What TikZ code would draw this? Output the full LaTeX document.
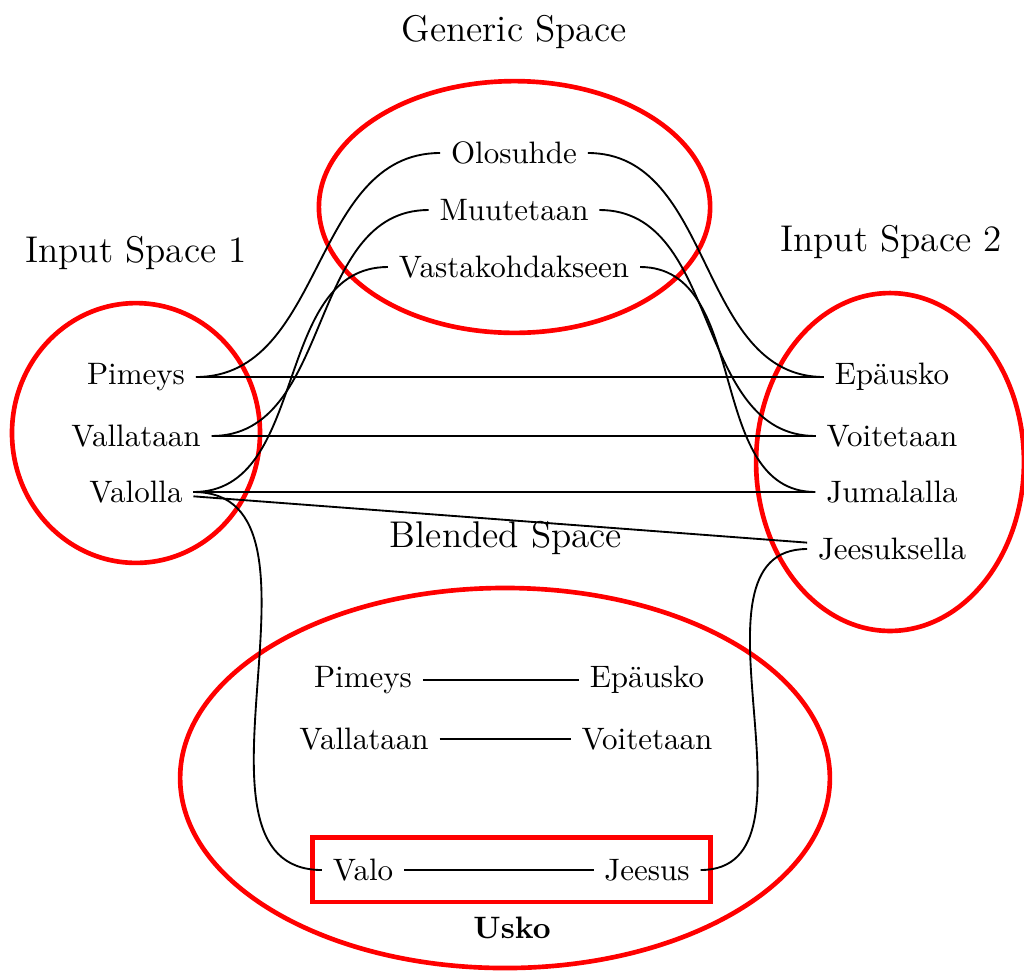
\documentclass[tikz,border=0pt]{standalone}
\usepackage{fontspec}
\begin{document}
\begin{tikzpicture}[
    x=0.32258pt, y=-0.32258pt,
    space/.style={draw=red, line width=1.5pt},
    link/.style={line width=0.6pt},
    title/.style={font=\large},
    term/.style={},
  ]
\useasboundingbox (0,0) rectangle (1024,970);

% the four mental spaces
\draw[space] (514.5,207) ellipse [x radius=63.1pt, y radius=40.6pt];
\draw[space] (136,433) ellipse [x radius=40.0pt, y radius=41.9pt];
\draw[space] (890,462) ellipse [x radius=43.2pt, y radius=54.5pt];
\draw[space] (505,778) ellipse [x radius=104.8pt, y radius=61.3pt];

% space titles
\node[title] (tg) at (514,32) {Generic Space};
\node[title] (t1) at (136,253) {Input Space 1};
\node[title] (t2) at (891,242) {Input Space 2};
\node[title] (tb) at (506,538) {Blended Space};

% generic space
\node[term] (g1) at (514,153) {Olosuhde};
\node[term] (g2) at (514,210) {Muutetaan};
\node[term] (g3) at (514,267) {Vastakohdakseen};

% input space 1
\node[term] (a1) at (136,377) {Pimeys};
\node[term] (a2) at (136,436) {Vallataan};
\node[term] (a3) at (136,492) {Valolla};

% input space 2
\node[term] (b1) at (892,377) {Epäusko};
\node[term] (b2) at (892,436) {Voitetaan};
\node[term] (b3) at (892,492) {Jumalalla};
\node[term] (b4) at (892,549) {Jeesuksella};

% blended space
\node[term] (c1) at (363,680) {Pimeys};
\node[term] (d1) at (647,680) {Epäusko};
\node[term] (c2) at (364,739) {Vallataan};
\node[term] (d2) at (647,739) {Voitetaan};
\node[term] (c3) at (363,870) {Valo};
\node[term] (d3) at (647,870) {Jeesus};
\node[space, minimum width=128.4pt, minimum height=20.8pt, inner sep=0pt] (usko) at (511.5,869.75) {};
\node[font=\bfseries] (uskolabel) at (512,927.5) {Usko};

% cross-space mappings
\draw[link] (a1) -- (b1);
\draw[link] (a2) -- (b2);
\draw[link] (a3) -- (b3);
\draw[link] (a3) -- (b4);

\draw[link] (a1.east) to[out=0,in=180] (g1.west);
\draw[link] (a2.east) to[out=0,in=180] (g2.west);
\draw[link] (a3.east) to[out=0,in=180] (g3.west);
\draw[link] (g1.east) to[out=0,in=180] (b1.west);
\draw[link] (g2.east) to[out=0,in=180] (b2.west);
\draw[link] (g3.east) to[out=0,in=180] (b3.west);

% projections into the blend
\draw[link] (a3.east) to[out=0,in=180] (c3.west);
\draw[link] (b4.west) to[out=180,in=0] (d3.east);

\draw[link] (c1) -- (d1);
\draw[link] (c2) -- (d2);
\draw[link] (c3) -- (d3);
\end{tikzpicture}
\end{document}
